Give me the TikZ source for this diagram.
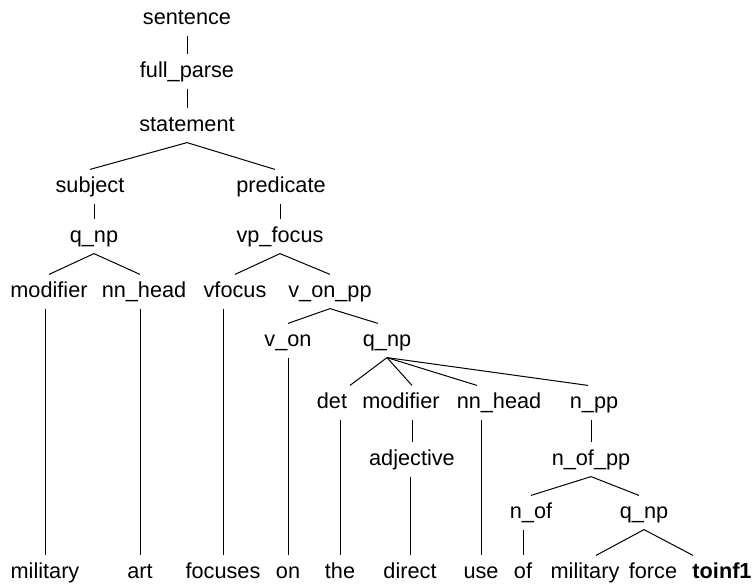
\documentclass[tikz,border=0pt]{standalone}
\usepackage{fontspec}
\setmainfont{Liberation Sans}
\begin{document}
\begin{tikzpicture}[x=.5pt, y=-.5pt, line width=.5pt,
    cat/.style={anchor=base, inner xsep=0pt, inner ysep=3.5pt, outer sep=0pt,
        text height=7.8pt, text depth=2.3pt, font=\fontsize{10.85}{13}\selectfont}]
\useasboundingbox (0,0) rectangle (753,585);
\foreach \n/\x/\y/\t in {sent/187/24/sentence, full/187/77/full\_parse, stmt/187/131/statement,
    subj/90/192/subject, pred/281/192/predicate, qnpa/94/242/q\_np, vpf/280/242/vp\_focus,
    moda/49/297/modifier, nnha/144/297/nn\_head, vfoc/235/297/vfocus, vonpp/330/297/v\_on\_pp,
    von/288/346/v\_on, qnpb/387/346/q\_np,
    det/332/408/det, modb/401/408/modifier, nnhb/499/408/nn\_head, npp/594/408/n\_pp,
    adj/412/465/adjective, nofpp/591/465/n\_of\_pp,
    nof/531/518/n\_of, qnpc/644/518/q\_np}
{
    \node[cat] (\n) at (\x,\y) {\t};
}
\foreach \n/\x/\t in {wmil/45/military, wart/140/art, wfoc/223/focuses, won/288/on, wthe/340/the,
    wdir/410/direct, wuse/481/use, wof/523/of, wmilb/585/military, wforce/653/force,
    wtoinf/722/{\textbf{toinf1}}}
{
    \node[cat] (\n) at (\x,578) {\t};
}
\foreach \a/\b in {sent/full, full/stmt, subj/qnpa, pred/vpf, moda/wmil, nnha/wart, vfoc/wfoc,
    von/won, det/wthe, modb/adj, adj/wdir, nnhb/wuse, npp/nofpp, nof/wof}
{
    \draw (\a.south -| \b) -- (\b.north);
}
\foreach \a/\b/\s in {stmt/subj/0pt, stmt/pred/-3pt, qnpa/moda/0pt, qnpa/nnha/-2pt,
    vpf/vfoc/0pt, vpf/vonpp/0pt, vonpp/von/0pt, vonpp/qnpb/-4.5pt,
    qnpb/det/9pt, qnpb/modb/5.5pt, qnpb/nnhb/-11pt, qnpb/npp/-3pt,
    nofpp/nof/0pt, nofpp/qnpc/-2.5pt, qnpc/wmilb/5.5pt, qnpc/wforce/20pt}
{
    \draw (\a.south) -- ([xshift=\s]\b.north);
}
\end{tikzpicture}
\end{document}
